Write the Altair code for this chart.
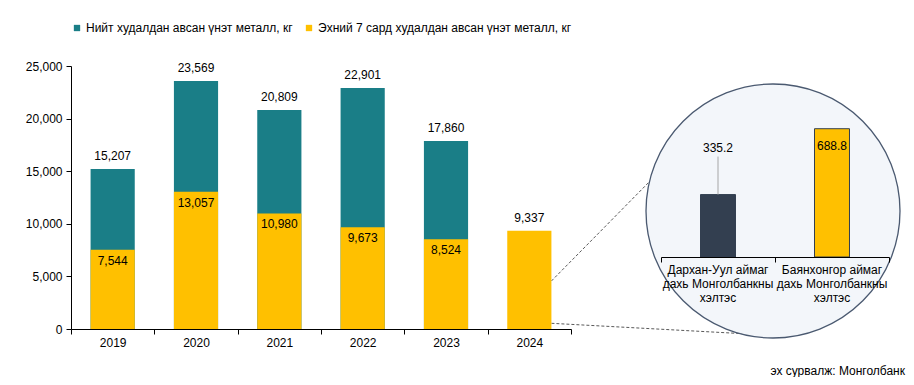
import altair as alt
import pandas as pd

# ---------------- data ----------------
years = ["2019", "2020", "2021", "2022", "2023", "2024"]
total = [15207, 23569, 20809, 22901, 17860, None]
first7 = [7544, 13057, 10980, 9673, 8524, 9337]
series_names = [
    "Нийт худалдан авсан үнэт металл, кг",
    "Эхний 7 сард худалдан авсан үнэт металл, кг",
]
branches = [
    "Дархан-Уул аймаг\nдахь Монголбанкны\nхэлтэс",
    "Баянхонгор аймаг\nдахь Монголбанкны\nхэлтэс",
]
branch_values = [335.2, 688.8]
branch_colors = ["#333F50", "#FFC000"]
y_ticks = [0, 5000, 10000, 15000, 20000, 25000]
source_text = ["эх сурвалж: Монголбанк"]

TEAL = "#1A7E87"
YELLOW = "#FFC000"
FONT = "Liberation Sans"

rows = []
for y, t in zip(years, total):
    if t is not None:
        rows.append({"year": y, "series": series_names[0], "value": t, "ord": 0})
for y, f in zip(years, first7):
    rows.append({"year": y, "series": series_names[1], "value": f, "ord": 1})
bars_df = pd.DataFrame(rows)

top_df = pd.DataFrame({
    "year": years,
    "top": [t if t is not None else f for t, f in zip(total, first7)],
})
inner_df = pd.DataFrame({
    "year": [y for y, t in zip(years, total) if t is not None],
    "value": [f for f, t in zip(first7, total) if t is not None],
})
last_df = pd.DataFrame({"year": [years[-1]], "value": [first7[-1]]})
branch_df = pd.DataFrame({"branch": branches, "value": branch_values, "color": branch_colors})
src_df = pd.DataFrame({"text": source_text})

# ---------------- main chart ----------------
x_main = alt.X(
    "year:N",
    scale=alt.Scale(domain=years, range=[0, 500], paddingInner=0, paddingOuter=0),
    axis=alt.Axis(title=None, tickBand="extent", labelAngle=0, labelAlign="center",
                  domainColor="black", tickColor="black", tickSize=5, labelPadding=8,
                  labelFontSize=12, labelColor="black", labelFont=FONT),
)
y_scale = alt.Scale(domain=[0, 25000], nice=False)

bars = alt.Chart(bars_df).mark_bar(width=alt.RelativeBandSize(0.53)).encode(
    x=x_main,
    y=alt.Y("value:Q", stack=None, scale=y_scale,
            axis=alt.Axis(title=None, values=y_ticks, format=",d", grid=False, tickSize=5,
                          domainColor="black", tickColor="black", labelPadding=4,
                          labelFontSize=12, labelColor="black", labelFont=FONT)),
    color=alt.Color("series:N", scale=alt.Scale(domain=series_names, range=[TEAL, YELLOW]),
                    legend=alt.Legend(title=None, orient="none", legendX=0, legendY=-44,
                                      direction="horizontal", symbolType="square",
                                      symbolSize=40, labelFontSize=12, labelLimit=400,
                                      columnPadding=10, labelOffset=3, padding=0,
                                      symbolStrokeWidth=0, labelColor="black",
                                      labelFont=FONT)),
    order=alt.Order("ord:Q"),
)

top_labels = alt.Chart(top_df).mark_text(dy=-13, fontSize=12, color="black", font=FONT).encode(
    x=alt.X("year:N"),
    y=alt.Y("top:Q", scale=y_scale),
    text=alt.Text("top:Q", format=",d"),
)

inner_labels = alt.Chart(inner_df).mark_text(dy=11, fontSize=12, color="black", font=FONT).encode(
    x=alt.X("year:N"),
    y=alt.Y("value:Q", scale=y_scale),
    text=alt.Text("value:Q", format=",d"),
)

dash1 = alt.Chart(last_df).mark_rule(strokeDash=[3, 2], color="#595959", strokeWidth=1).encode(
    x=alt.X("year:N", bandPosition=0.765),
    y=alt.value(215),
    x2=alt.value(587),
    y2=alt.value(107),
)
dash2 = alt.Chart(last_df).mark_rule(strokeDash=[3, 2], color="#595959", strokeWidth=1).encode(
    x=alt.X("year:N", bandPosition=0.765),
    y=alt.value(257.3),
    x2=alt.value(704),
    y2=alt.value(269.4),
)

source = alt.Chart(src_df).mark_text(align="right", baseline="alphabetic", fontSize=12,
                                     color="black", font=FONT).encode(
    x=alt.value(834), y=alt.value(309), text="text:N")

main = alt.layer(dash1, dash2, bars, top_labels, inner_labels, source)

# ---------------- inset ----------------
x_in = alt.X(
    "branch:N",
    scale=alt.Scale(domain=branches, range=[590, 818], paddingInner=0, paddingOuter=0),
    axis=alt.Axis(orient="bottom", offset=-72, labels=False, title=None, tickBand="extent",
                  tickSize=5, domainColor="black", tickColor="black", zindex=2),
)
y_in_scale = alt.Scale(domain=[0, 800], range=[191, 42], nice=False)

circle = alt.Chart(src_df).mark_point(shape="circle", size=254 * 254, filled=True,
                                      fill="#F3F6FA", stroke="#4A5970", strokeWidth=1.3,
                                      opacity=1).encode(
    x=alt.value(702), y=alt.value(145))

in_bars = alt.Chart(branch_df).mark_bar(width=alt.RelativeBandSize(0.307), stroke="#333F50",
                                        strokeWidth=1).encode(
    x=x_in,
    y=alt.Y("value:Q", scale=y_in_scale, axis=None),
    color=alt.Color("color:N", scale=None),
)

leader = alt.Chart(branch_df).transform_filter(
    alt.datum.branch == branches[0]
).mark_rule(color="#A6A6A6", strokeWidth=1, y2Offset=-38).encode(
    x=alt.X("branch:N"),
    y=alt.Y("value:Q", scale=y_in_scale),
    y2=alt.Y2("value"),
)

lab_above = alt.Chart(branch_df).transform_filter(
    alt.datum.branch == branches[0]
).mark_text(dy=-47, fontSize=12, color="black", font=FONT).encode(
    x=alt.X("branch:N"),
    y=alt.Y("value:Q", scale=y_in_scale),
    text=alt.Text("value:Q", format=".1f"),
)
lab_inside = alt.Chart(branch_df).transform_filter(
    alt.datum.branch == branches[1]
).mark_text(dy=17, fontSize=12, color="black", font=FONT).encode(
    x=alt.X("branch:N"),
    y=alt.Y("value:Q", scale=y_in_scale),
    text=alt.Text("value:Q", format=".1f"),
)

cat_labels = alt.Chart(branch_df).mark_text(lineBreak="\n", baseline="top", fontSize=12,
                                            lineHeight=14, color="black", font=FONT).encode(
    x=alt.X("branch:N"),
    y=alt.value(199),
    text="branch:N",
)

inset = alt.layer(circle, in_bars, leader, lab_above, lab_inside, cat_labels)

chart = alt.layer(main, inset).resolve_scale(
    x="independent", y="independent", color="independent"
).properties(
    width=835, height=263,
    padding={"left": 63, "top": 58, "right": 0, "bottom": 48},
    autosize=alt.AutoSizeParams(type="none"),
).configure(font=FONT).configure_view(stroke=None)

chart.save("out.html", embed_options={"renderer": "svg", "actions": False})
